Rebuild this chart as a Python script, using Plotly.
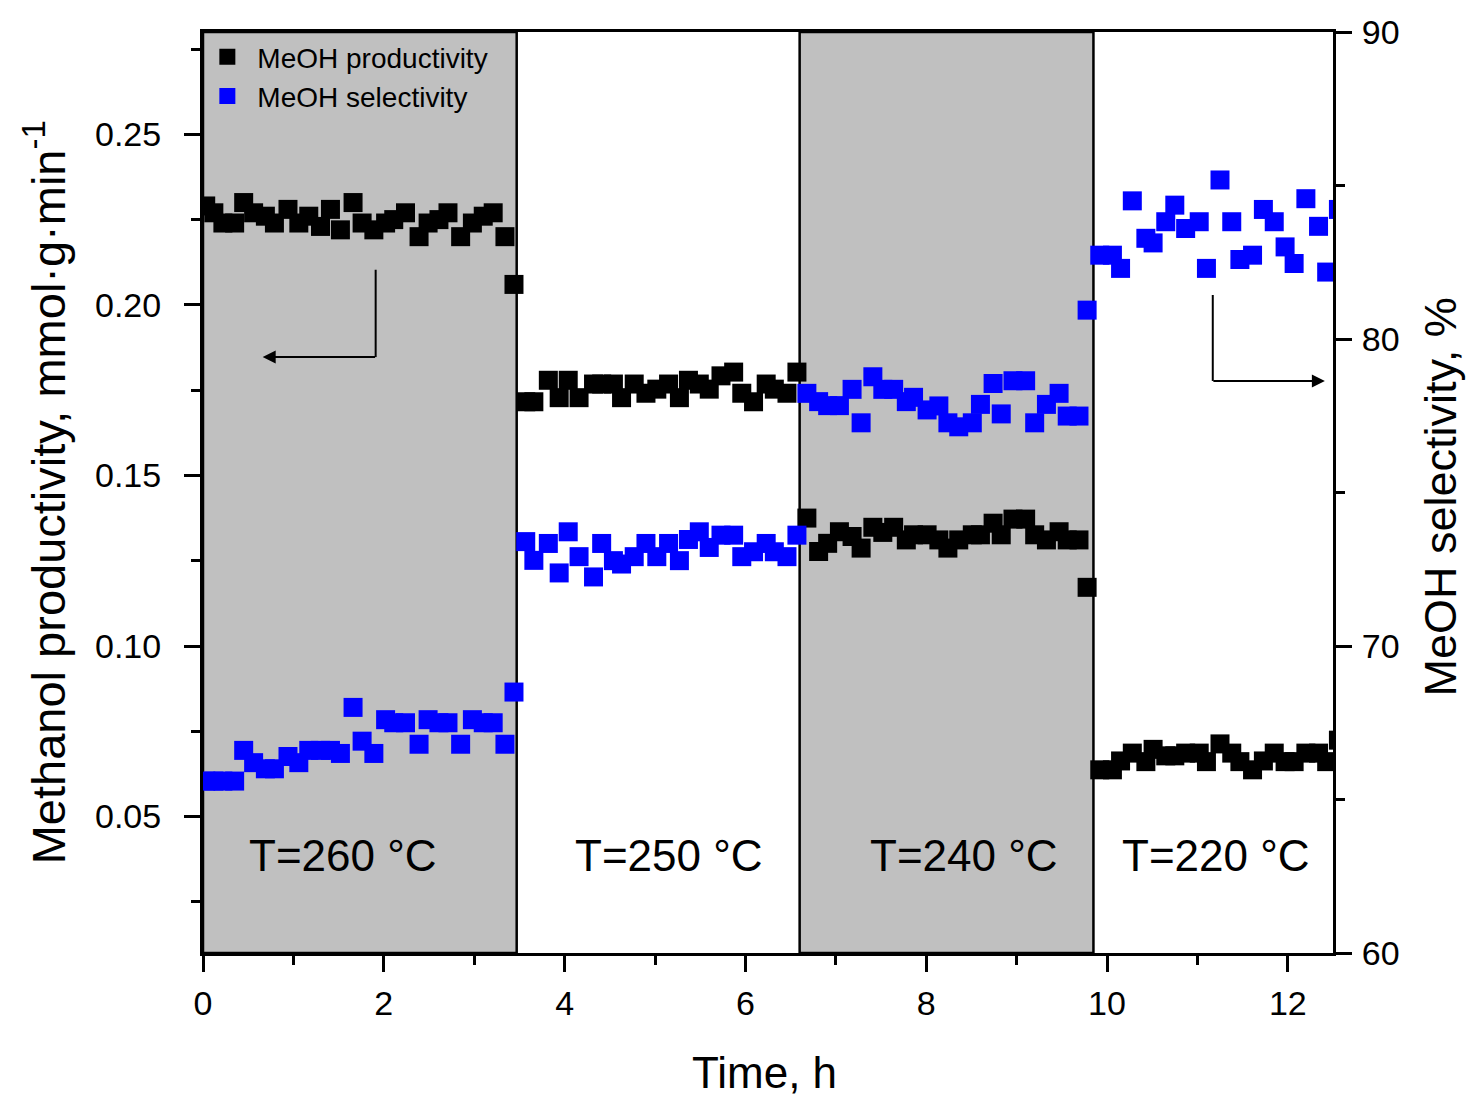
import plotly.graph_objects as go

# ---- data: time on stream (h), methanol productivity (mmol/g/min), selectivity (%) ----
time_260 = [0.03, 0.12, 0.22, 0.35, 0.45, 0.56, 0.69, 0.79, 0.94, 1.06, 1.17, 1.30, 1.41, 1.52, 1.66,
            1.76, 1.89, 2.02, 2.11, 2.24, 2.39, 2.49, 2.61, 2.71, 2.85, 2.98, 3.10, 3.21, 3.34, 3.44]
prod_260 = [0.229, 0.227, 0.224, 0.224, 0.230, 0.227, 0.226, 0.224, 0.228, 0.224, 0.226, 0.223, 0.228, 0.222, 0.230,
            0.224, 0.222, 0.224, 0.225, 0.227, 0.220, 0.224, 0.225, 0.227, 0.220, 0.224, 0.226, 0.227, 0.220, 0.206]
sel_260 = [65.6, 65.6, 65.6, 65.6, 66.6, 66.2, 66.0, 66.0, 66.4, 66.2, 66.6, 66.6, 66.6, 66.5, 68.0,
           66.9, 66.5, 67.6, 67.5, 67.5, 66.8, 67.6, 67.5, 67.5, 66.8, 67.6, 67.5, 67.5, 66.8, 68.5]

time_250 = [3.57, 3.66, 3.82, 3.94, 4.04, 4.16, 4.32, 4.41, 4.54, 4.63, 4.77, 4.90, 5.02,
            5.15, 5.27, 5.37, 5.49, 5.60, 5.73, 5.87, 5.96, 6.09, 6.23, 6.32, 6.46, 6.57]
prod_250 = [0.1716, 0.1716, 0.1779, 0.1728, 0.1779, 0.1728, 0.1768, 0.1768, 0.1768, 0.1728, 0.1768, 0.1741, 0.1753,
            0.1768, 0.1728, 0.1779, 0.1768, 0.1753, 0.1792, 0.1803, 0.1741, 0.1716, 0.1768, 0.1753, 0.1741, 0.1803]
sel_250 = [73.40, 72.79, 73.34, 72.38, 73.72, 72.91, 72.25, 73.34, 72.78, 72.67, 72.91, 73.34, 72.91,
           73.34, 72.78, 73.47, 73.72, 73.21, 73.61, 73.61, 72.91, 73.07, 73.34, 73.07, 72.91, 73.61]

time_240 = [6.68, 6.81, 6.91, 7.04, 7.18, 7.28, 7.41, 7.52, 7.64, 7.78, 7.86, 8.01, 8.14, 8.24,
            8.36, 8.51, 8.60, 8.74, 8.83, 8.96, 9.10, 9.20, 9.33, 9.47, 9.56, 9.69, 9.78]
prod_240 = [0.1375, 0.1277, 0.1301, 0.1335, 0.1321, 0.1287, 0.1348, 0.1333, 0.1348, 0.1311, 0.1326, 0.1326, 0.1311, 0.1287,
            0.1311, 0.1326, 0.1326, 0.1360, 0.1326, 0.1372, 0.1372, 0.1326, 0.1311, 0.1335, 0.1311, 0.1311, 0.1172]
sel_240 = [78.23, 77.96, 77.83, 77.83, 78.36, 77.27, 78.77, 78.36, 78.36, 77.96, 78.10, 77.69, 77.82, 77.27,
           77.14, 77.27, 77.87, 78.55, 77.56, 78.64, 78.64, 77.27, 77.87, 78.23, 77.49, 77.49, 80.94]

time_220 = [9.92, 10.06, 10.15, 10.28, 10.43, 10.51, 10.65, 10.75, 10.87, 11.02, 11.10, 11.25,
            11.38, 11.47, 11.61, 11.73, 11.85, 11.97, 12.07, 12.20, 12.34, 12.43, 12.56]
prod_220 = [0.0637, 0.0637, 0.0663, 0.0686, 0.0661, 0.0697, 0.0678, 0.0678, 0.0686, 0.0686, 0.0661, 0.0713,
            0.0686, 0.0661, 0.0637, 0.0663, 0.0686, 0.0661, 0.0661, 0.0686, 0.0686, 0.0661, 0.0724]
sel_220 = [82.73, 82.73, 82.30, 84.50, 83.28, 83.13, 83.82, 84.36, 83.60, 83.82, 82.30, 85.18,
           83.82, 82.59, 82.73, 84.22, 83.82, 83.00, 82.46, 84.57, 83.67, 82.18, 84.22]

# temperature steps: (start h, end h, label)
steps = [(0.0, 3.47, "T=260 °C"), (3.47, 6.60, "T=250 °C"), (6.60, 9.85, "T=240 °C"), (9.85, 12.5, "T=220 °C")]
label_x = [1.55, 5.15, 8.42, 11.21]
shaded_steps = [0, 2]

time_all = time_260 + time_250 + time_240 + time_220
prod_all = prod_260 + prod_250 + prod_240 + prod_220
sel_all = sel_260 + sel_250 + sel_240 + sel_220

FONT = "Arial, Liberation Sans, sans-serif"

fig = go.Figure()
fig.add_trace(go.Scatter(
    x=time_all, y=prod_all, mode="markers", name="MeOH productivity",
    marker=dict(symbol="square", size=19, color="#000000"), yaxis="y"))
fig.add_trace(go.Scatter(
    x=time_all, y=sel_all, mode="markers", name="MeOH selectivity",
    marker=dict(symbol="square", size=19, color="#0000FF"), yaxis="y2"))

shapes = []
for i in shaded_steps:
    x0, x1, _ = steps[i]
    shapes.append(dict(type="rect", xref="x", yref="paper", x0=x0, x1=x1, y0=0, y1=1,
                       fillcolor="#C0C0C0", line=dict(color="black", width=2.5), layer="below"))

# bent arrows pointing to the relevant axis
shapes.append(dict(type="line", xref="x", yref="y", x0=1.91, x1=1.91, y0=0.2103, y1=0.1847,
                   line=dict(color="black", width=2)))
shapes.append(dict(type="line", xref="x", yref="y", x0=11.17, x1=11.17, y0=0.2029, y1=0.1777,
                   line=dict(color="black", width=2)))

annotations = []
for (x0, x1, txt), lx in zip(steps, label_x):
    annotations.append(dict(x=lx, y=0.106, xref="x", yref="paper", text=txt, showarrow=False,
                            font=dict(family=FONT, size=44, color="black"),
                            xanchor="center", yanchor="middle"))

annotations.append(dict(x=0.66, y=0.1847, xref="x", yref="y", ax=1.92, ay=0.1847, axref="x", ayref="y",
                        text="", showarrow=True, arrowhead=2, arrowsize=1.3, arrowwidth=2, arrowcolor="black"))
annotations.append(dict(x=12.41, y=0.1777, xref="x", yref="y", ax=11.16, ay=0.1777, axref="x", ayref="y",
                        text="", showarrow=True, arrowhead=2, arrowsize=1.3, arrowwidth=2, arrowcolor="black"))

# axis titles
annotations.append(dict(x=-0.14, y=0.5, xref="paper", yref="paper", textangle=-90,
                        text="Methanol productivity, mmol·g·min<sup>-1</sup>", showarrow=False,
                        font=dict(family=FONT, size=47, color="black"), xanchor="center", yanchor="middle"))
annotations.append(dict(x=1.095, y=0.495, xref="paper", yref="paper", textangle=-90,
                        text="MeOH selectivity, %", showarrow=False,
                        font=dict(family=FONT, size=45, color="black"), xanchor="center", yanchor="middle"))
annotations.append(dict(x=0.497, y=-0.13, xref="paper", yref="paper",
                        text="Time, h", showarrow=False,
                        font=dict(family=FONT, size=44, color="black"), xanchor="center", yanchor="middle"))

tick_font = dict(family=FONT, size=34, color="black")

fig.update_layout(
    width=1468, height=1098,
    margin=dict(l=203, r=135, t=32, b=145),
    paper_bgcolor="white", plot_bgcolor="white",
    font=dict(family=FONT, color="black"),
    shapes=shapes, annotations=annotations,
    showlegend=True,
    legend=dict(x=-0.005, y=1.0, xanchor="left", yanchor="top", bgcolor="rgba(0,0,0,0)",
                font=dict(family=FONT, size=28, color="black"), itemsizing="trace",
                itemwidth=50, tracegroupgap=0),
    xaxis=dict(range=[0, 12.5], dtick=2, tick0=0, showgrid=False, zeroline=False,
               showline=True, linecolor="black", linewidth=3, mirror=True,
               ticks="outside", ticklen=16, tickwidth=2.5, tickcolor="black",
               ticklabelstandoff=2, tickfont=tick_font,
               minor=dict(dtick=1, tick0=0, ticks="outside", ticklen=9, tickwidth=2.5, tickcolor="black")),
    yaxis=dict(range=[0.01, 0.28], tickvals=[0.05, 0.10, 0.15, 0.20, 0.25], tickformat=".2f",
               showgrid=False, zeroline=False,
               showline=True, linecolor="black", linewidth=3,
               ticks="outside", ticklen=16, tickwidth=2.5, tickcolor="black",
               ticklabelstandoff=16, tickfont=tick_font,
               minor=dict(dtick=0.025, tick0=0, ticks="outside", ticklen=9, tickwidth=2.5, tickcolor="black")),
    yaxis2=dict(range=[60, 90], dtick=10, tick0=60, overlaying="y", side="right",
                showgrid=False, zeroline=False,
                showline=True, linecolor="black", linewidth=3,
                ticks="outside", ticklen=16, tickwidth=2.5, tickcolor="black",
                ticklabelstandoff=3, tickfont=tick_font,
                minor=dict(dtick=5, tick0=60, ticks="outside", ticklen=9, tickwidth=2.5, tickcolor="black")),
)

fig.write_html("out.html")
